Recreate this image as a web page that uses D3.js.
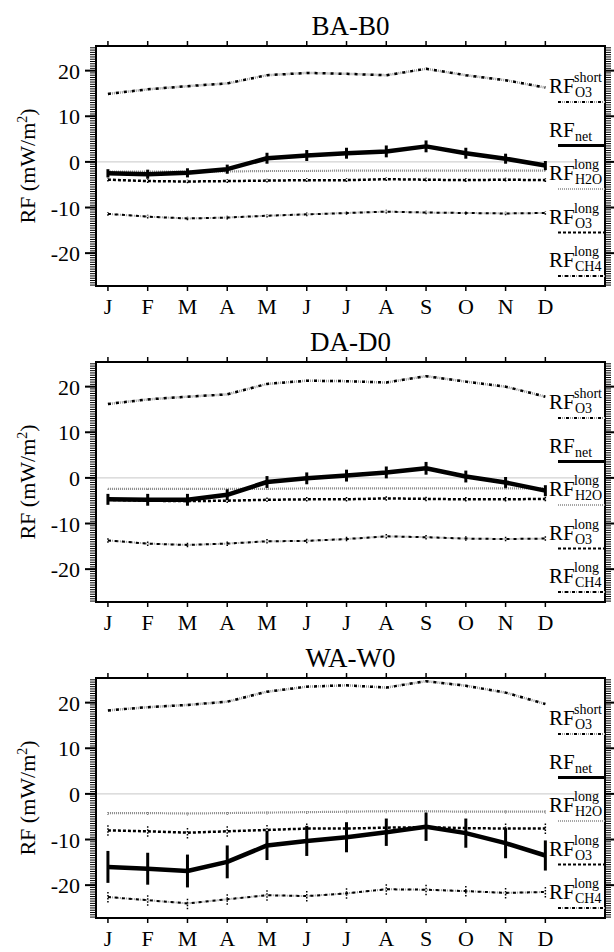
<!DOCTYPE html>
<html>
<head>
<meta charset="utf-8">
<script src="https://cdn.jsdelivr.net/npm/d3@7"></script>
<style>
  body { margin: 0; background: #fff; }
</style>
</head>
<body>
<svg width="614" height="952" font-family="'Liberation Serif', 'DejaVu Serif', 'Times New Roman', serif"></svg>
<script>
// ---- data ----
var months = ["J", "F", "M", "A", "M", "J", "J", "A", "S", "O", "N", "D"];
var panelNames = ["BA-B0", "DA-D0", "WA-W0"];
var yTicks = [-20, -10, 0, 10, 20];

// BA-B0
var baShort = [14.9, 15.9, 16.6, 17.2, 19.0, 19.5, 19.3, 19.0, 20.4, 19.0, 17.9, 16.3];
var baNet = [-2.5, -2.7, -2.4, -1.6, 0.8, 1.4, 1.9, 2.3, 3.4, 1.9, 0.7, -0.8];
var baNetErr = [0.9, 1.0, 1.0, 1.0, 1.2, 1.2, 1.2, 1.3, 1.3, 1.2, 1.1, 1.0];
var baH2O = [-2.1, -2.1, -2.1, -2.1, -2.0, -2.0, -1.9, -1.9, -1.9, -1.9, -1.9, -1.9];
var baO3 = [-3.9, -4.2, -4.3, -4.2, -4.1, -4.0, -4.0, -3.8, -3.9, -4.0, -3.9, -4.0];
var baCH4 = [-11.4, -12.0, -12.4, -12.2, -11.8, -11.5, -11.2, -10.9, -11.1, -11.2, -11.3, -11.2];
var baLongErr = [0.4, 0.4, 0.4, 0.4, 0.4, 0.4, 0.4, 0.4, 0.4, 0.4, 0.4, 0.4];

// DA-D0
var daShort = [16.2, 17.2, 17.8, 18.3, 20.6, 21.3, 21.2, 20.9, 22.3, 21.1, 20.0, 17.8];
var daNet = [-4.7, -4.8, -4.8, -3.7, -0.9, -0.1, 0.5, 1.2, 2.1, 0.3, -1.0, -2.8];
var daNetErr = [1.2, 1.3, 1.3, 1.2, 1.3, 1.3, 1.3, 1.3, 1.4, 1.3, 1.2, 1.2];
var daH2O = [-2.4, -2.4, -2.4, -2.4, -2.4, -2.3, -2.3, -2.3, -2.3, -2.3, -2.3, -2.3];
var daO3 = [-4.8, -5.0, -5.1, -5.0, -4.8, -4.7, -4.7, -4.5, -4.6, -4.7, -4.7, -4.6];
var daCH4 = [-13.7, -14.4, -14.7, -14.4, -13.9, -13.8, -13.4, -12.8, -13.0, -13.3, -13.4, -13.3];
var daLongErr = [0.5, 0.5, 0.5, 0.5, 0.5, 0.5, 0.5, 0.5, 0.5, 0.5, 0.5, 0.5];

// WA-W0
var waShort = [18.3, 19.0, 19.5, 20.2, 22.4, 23.5, 23.8, 23.3, 24.7, 23.7, 22.2, 19.7];
var waNet = [-16.0, -16.4, -16.9, -14.9, -11.3, -10.3, -9.5, -8.4, -7.2, -8.6, -10.8, -13.5];
var waNetErr = [3.5, 3.5, 3.6, 3.6, 3.2, 3.3, 3.3, 3.0, 3.1, 3.2, 3.3, 3.3];
var waH2O = [-4.2, -4.2, -4.3, -4.2, -4.1, -4.0, -3.9, -3.8, -3.8, -3.9, -3.9, -3.9];
var waO3 = [-8.0, -8.2, -8.5, -8.2, -7.9, -7.6, -7.6, -7.4, -7.3, -7.5, -7.6, -7.6];
var waCH4 = [-22.6, -23.3, -24.0, -23.1, -22.2, -22.4, -21.8, -20.9, -21.0, -21.3, -21.7, -21.5];
var waLongErr = [1.2, 1.2, 1.3, 1.2, 1.2, 1.2, 1.2, 1.2, 1.2, 1.2, 1.2, 1.2];

var panels = [
  { name: panelNames[0], short: baShort, net: baNet, netErr: baNetErr, h2o: baH2O, o3: baO3, ch4: baCH4, err: baLongErr },
  { name: panelNames[1], short: daShort, net: daNet, netErr: daNetErr, h2o: daH2O, o3: daO3, ch4: daCH4, err: daLongErr },
  { name: panelNames[2], short: waShort, net: waNet, netErr: waNetErr, h2o: waH2O, o3: waO3, ch4: waCH4, err: waLongErr }
];

// ---- layout ----
var svg = d3.select("svg"),
  left = 96, right = 605, plotH = 240,
  panelTops = [46, 362, 678];

var x = d3.scaleLinear().domain([0.7, 13.5]).range([left, right]);
var monthIdx = d3.range(1, 13);

panels.forEach(function(p, pi) {
  var top = panelTops[pi];
  var y = d3.scaleLinear().domain([-27.2, 25.4]).range([top + plotH, top]);
  var g = svg.append("g");

  var line = d3.line()
    .x(function(d, i) { return x(i + 1); })
    .y(function(d) { return y(d); });

  // zero line
  g.append("line")
    .attr("x1", x(0.7)).attr("x2", x(13.35))
    .attr("y1", y(0)).attr("y2", y(0))
    .attr("stroke", "#c8c8c8").attr("stroke-width", 1);

  function errBars(vals, errs, color, width, dash) {
    g.selectAll(null).data(vals).enter().append("line")
      .attr("x1", function(d, i) { return x(i + 1); })
      .attr("x2", function(d, i) { return x(i + 1); })
      .attr("y1", function(d, i) { return y(d - errs[i]); })
      .attr("y2", function(d, i) { return y(d + errs[i]); })
      .attr("stroke", color).attr("stroke-width", width)
      .attr("stroke-dasharray", dash);
  }

  // CH4 long : dash-dot
  errBars(p.ch4, p.err, "#000", 1.5, "1.5,1.5");
  g.append("path").attr("d", line(p.ch4)).attr("fill", "none")
    .attr("stroke", "#999").attr("stroke-width", 2).attr("stroke-dasharray", "1,1");
  g.append("path").attr("d", line(p.ch4)).attr("fill", "none")
    .attr("stroke", "#000").attr("stroke-width", 2).attr("stroke-dasharray", "3,4");

  // O3 long : dotted black
  errBars(p.o3, p.err, "#000", 1.5, "1.5,1.5");
  g.append("path").attr("d", line(p.o3)).attr("fill", "none")
    .attr("stroke", "#000").attr("stroke-width", 2.5).attr("stroke-dasharray", "3,2");

  // H2O long : gray dotted
  errBars(p.h2o, p.err.map(function(e) { return e * 0.35; }), "#777", 1.2, "1,1");
  g.append("path").attr("d", line(p.h2o)).attr("fill", "none")
    .attr("stroke", "#888").attr("stroke-width", 2.2).attr("stroke-dasharray", "1,1");

  // O3 short : dash-dot-dot
  g.append("path").attr("d", line(p.short)).attr("fill", "none")
    .attr("stroke", "#999").attr("stroke-width", 2.5).attr("stroke-dasharray", "1,1");
  g.append("path").attr("d", line(p.short)).attr("fill", "none")
    .attr("stroke", "#000").attr("stroke-width", 2.5).attr("stroke-dasharray", "3,5");

  // net : solid with error bars
  errBars(p.net, p.netErr, "#000", 3, null);
  g.append("path").attr("d", line(p.net)).attr("fill", "none")
    .attr("stroke", "#000").attr("stroke-width", 4.5).attr("stroke-linejoin", "round");

  // frame
  g.append("rect")
    .attr("x", left).attr("y", top).attr("width", right - left).attr("height", plotH)
    .attr("fill", "none").attr("stroke", "#000").attr("stroke-width", 2);

  // month ticks top and bottom
  g.selectAll(null).data(monthIdx).enter().append("line")
    .attr("x1", x).attr("x2", x)
    .attr("y1", top).attr("y2", top - 5)
    .attr("stroke", "#000").attr("stroke-width", 1.5);
  g.selectAll(null).data(monthIdx).enter().append("line")
    .attr("x1", x).attr("x2", x)
    .attr("y1", top + plotH).attr("y2", top + plotH + 5)
    .attr("stroke", "#000").attr("stroke-width", 1.5);

  // month labels
  g.selectAll(null).data(months).enter().append("text")
    .attr("x", function(d, i) { return x(i + 1); })
    .attr("y", top + plotH + 28)
    .attr("text-anchor", "middle")
    .style("font-size", "22px")
    .text(function(d) { return d; });

  // y axis: minor ticks left and right
  var minor = d3.range(-27, 25.5, 0.5);
  g.selectAll(null).data(minor).enter().append("line")
    .attr("x1", left - 6).attr("x2", left)
    .attr("y1", function(d) { return y(d); }).attr("y2", function(d) { return y(d); })
    .attr("stroke", "#000").attr("stroke-width", 1);
  g.selectAll(null).data(minor).enter().append("line")
    .attr("x1", right).attr("x2", right + 6)
    .attr("y1", function(d) { return y(d); }).attr("y2", function(d) { return y(d); })
    .attr("stroke", "#000").attr("stroke-width", 1);
  g.selectAll(null).data(yTicks).enter().append("line")
    .attr("x1", left - 11).attr("x2", left)
    .attr("y1", function(d) { return y(d); }).attr("y2", function(d) { return y(d); })
    .attr("stroke", "#000").attr("stroke-width", 2);
  g.selectAll(null).data(yTicks).enter().append("line")
    .attr("x1", right).attr("x2", right + 9)
    .attr("y1", function(d) { return y(d); }).attr("y2", function(d) { return y(d); })
    .attr("stroke", "#000").attr("stroke-width", 2);
  g.selectAll(null).data(yTicks).enter().append("text")
    .attr("x", left - 16)
    .attr("y", function(d) { return y(d) + 8; })
    .attr("text-anchor", "end")
    .style("font-size", "22px")
    .text(function(d) { return d; });

  // y label
  var yl = g.append("text")
    .attr("transform", "translate(35," + (top + plotH / 2) + ") rotate(-90)")
    .attr("text-anchor", "middle")
    .style("font-size", "22px");
  yl.append("tspan").text("RF (mW/m");
  yl.append("tspan").attr("dy", -8).style("font-size", "14px").text("2");
  yl.append("tspan").attr("dy", 8).text(")");

  // title
  g.append("text")
    .attr("x", (left + right) / 2).attr("y", top - 11)
    .attr("text-anchor", "middle")
    .style("font-size", "27px")
    .text(p.name);

  // legend
  var legend = [
    { sup: "short", sub: "O3", kind: "short" },
    { sup: "", sub: "net", kind: "net" },
    { sup: "long", sub: "H2O", kind: "h2o" },
    { sup: "long", sub: "O3", kind: "o3" },
    { sup: "long", sub: "CH4", kind: "ch4" }
  ];
  legend.forEach(function(L, li) {
    var ly = top + 56 + li * 43.5, lx0 = 558, lx1 = right;
    g.append("text").attr("x", 549).attr("y", ly - 9).style("font-size", "21px").text("RF");
    g.append("text").attr("x", 575).attr("y", ly - 5).style("font-size", "14px").text(L.sub);
    if (L.sup) g.append("text").attr("x", 574).attr("y", ly - 20).style("font-size", "14px").text(L.sup);
    function seg(color, w, dash) {
      g.append("line").attr("x1", lx0).attr("x2", lx1).attr("y1", ly).attr("y2", ly)
        .attr("stroke", color).attr("stroke-width", w).attr("stroke-dasharray", dash);
    }
    if (L.kind === "short") { seg("#999", 2, "1,1"); seg("#000", 2, "3,5"); }
    if (L.kind === "net") seg("#000", 3, null);
    if (L.kind === "h2o") seg("#888", 1.5, "1,1");
    if (L.kind === "o3") seg("#000", 2, "3,2");
    if (L.kind === "ch4") { seg("#999", 2, "1,1"); seg("#000", 2, "3,4"); }
  });
});
</script>
</body>
</html>
